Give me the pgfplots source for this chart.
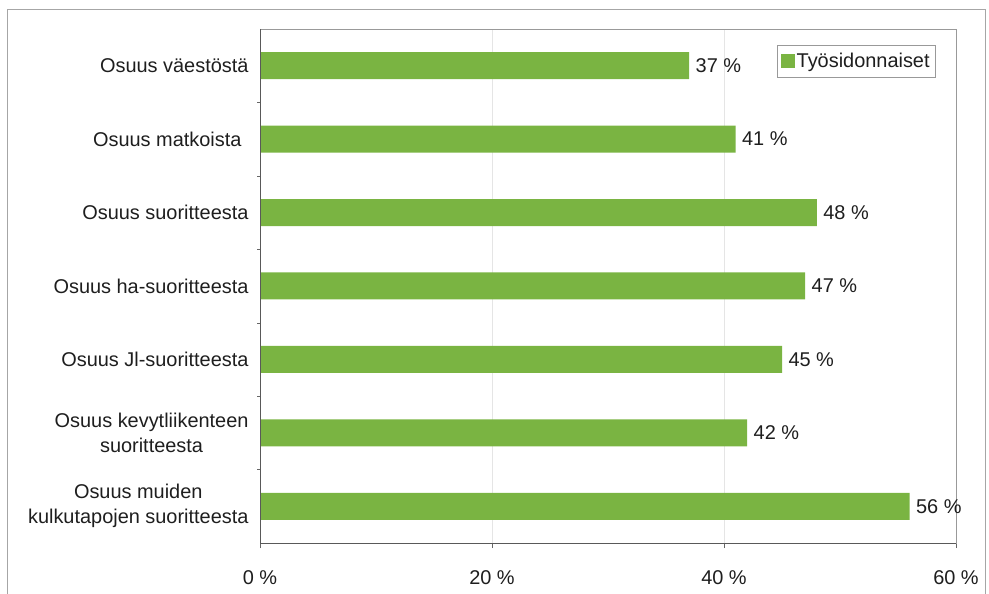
\documentclass[border=0pt]{standalone}
\usepackage{pgfplots}
\pgfplotsset{compat=1.18}
\usepackage{fontspec}
\setmainfont{Liberation Sans}
\definecolor{bargreen}{RGB}{122,180,66}
\definecolor{txt}{RGB}{30,30,30}
\begin{document}
\begin{tikzpicture}[x=1bp,y=1bp]
\path[use as bounding box] (0,0) rectangle (989,594);
\draw[black!35,line width=0.8bp] (7,-2) -- (7,585) -- (985,585) -- (985,-2);
\begin{axis}[
  at={(260bp,51bp)}, anchor=south west,
  width=696bp, height=514bp, scale only axis,
  xbar, bar width=27bp, bar shift=0pt,
  xmin=0, xmax=60,
  ymin=-0.5, ymax=6.5, y dir=reverse,
  xtick={0,20,40,60},
  xticklabel={\pgfmathprintnumber{\tick}~\%},
  /pgf/number format/assume math mode=true,
  ytick={0,...,6},
  yticklabels={Osuus väestöstä, Osuus matkoista\hspace{7bp}, Osuus suoritteesta, Osuus ha-suoritteesta, Osuus Jl-suoritteesta, {Osuus kevytliikenteen\\suoritteesta}, {Osuus muiden\\kulkutapojen suoritteesta}},
  minor ytick={0.5,1.5,...,5.5},
  xtick pos=bottom, ytick pos=left,
  tick align=outside,
  major tick length=5bp, minor tick length=3bp,
  every y tick/.style={draw=none},
  every minor y tick/.style={draw=black!60},
  every x tick/.style={draw=black!60},
  xmajorgrids, major grid style={black!10},
  axis line style={draw=black!40},
  every tick label/.append style={font=\fontsize{20}{25}\selectfont, text=txt},
  yticklabel style={align=center, xshift=-3bp},
  xticklabel style={yshift=-19bp},
  point meta=x,
  nodes near coords={\pgfmathprintnumber{\pgfplotspointmeta}~\%},
  nodes near coords style={font=\fontsize{20}{25}\selectfont, text=txt, anchor=west, xshift=3bp},
  legend style={at={(0.971,0.969)}, anchor=north east, draw=black!40,
    font=\fontsize{20}{25}\selectfont, text=txt, inner xsep=4bp, inner ysep=6bp},
  legend cell align=left,
  legend image code/.code={\fill[bargreen] (0bp,-7bp) rectangle (14bp,7bp);},
]
\addplot[fill=bargreen, draw=none] coordinates {
  (37,0) (41,1) (48,2) (47,3) (45,4) (42,5) (56,6)
};
\addlegendentry{Työsidonnaiset}
\draw[black!65] (axis cs:0,-0.5) -- (axis cs:0,6.5) -- (axis cs:60,6.5);
\end{axis}
\end{tikzpicture}
\end{document}
